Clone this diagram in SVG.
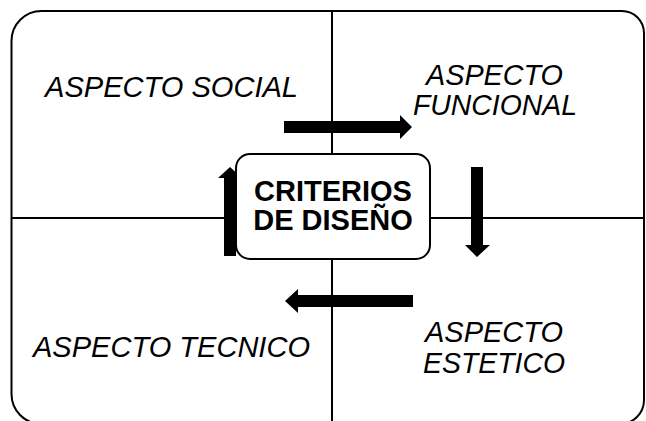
<svg xmlns="http://www.w3.org/2000/svg" width="646" height="421" viewBox="0 0 646 421">
<style>
.line{fill:none;stroke:#000;stroke-width:2}
.arrow{fill:#000;stroke:none}
.lbl{font-family:"Liberation Sans",Arial,sans-serif;font-style:italic;font-size:30px;fill:#000}
.ctr{font-family:"Liberation Sans",Arial,sans-serif;font-weight:bold;font-size:29px;fill:#000;text-anchor:middle}
</style>
<rect width="646" height="421" fill="#fff"/>
<g id="frame">
<path class="line" d="M11.5 41 A30 30 0 0 1 41.5 11 L622 11 A22 22 0 0 1 644 33 L644 400 A24 24 0 0 1 620 424 L41.5 424 A30 30 0 0 1 11.5 394 Z"/>
<line class="line" x1="332" y1="11" x2="332" y2="424"/>
<line class="line" x1="11.5" y1="218" x2="644" y2="218"/>
</g>
<g id="connectors">
<polygon class="arrow" points="284,121 400,121 400,115 412,127 400,139 400,133 284,133"/>
<polygon class="arrow" points="471,167 483,167 483,245 490,245 477,257 465,245 471,245"/>
<polygon class="arrow" points="413,295 413,307 298,307 298,313 285,301 298,289 298,295"/>
<polygon class="arrow" points="224,256 224,178 218,178 230,167 242,178 236,178 236,256"/>
</g>
<g id="criterios">
<rect class="line" x="236" y="154" width="194" height="105" rx="14" style="fill:#fff"/>
<text class="ctr"><tspan x="333" y="201">CRITERIOS</tspan><tspan x="333" y="230">DE DISEÑO</tspan></text>
</g>
<g id="social">
<text class="lbl" x="45" y="97" textLength="253" lengthAdjust="spacingAndGlyphs">ASPECTO SOCIAL</text>
</g>
<g id="funcional">
<text class="lbl"><tspan x="426" y="85" textLength="137" lengthAdjust="spacingAndGlyphs">ASPECTO</tspan><tspan x="413" y="115" textLength="164" lengthAdjust="spacingAndGlyphs">FUNCIONAL</tspan></text>
</g>
<g id="tecnico">
<text class="lbl" x="33" y="357" textLength="277" lengthAdjust="spacingAndGlyphs">ASPECTO TECNICO</text>
</g>
<g id="estetico">
<text class="lbl"><tspan x="425" y="342" textLength="138" lengthAdjust="spacingAndGlyphs">ASPECTO</tspan><tspan x="423" y="373" textLength="142" lengthAdjust="spacingAndGlyphs">ESTETICO</tspan></text>
</g>
</svg>
